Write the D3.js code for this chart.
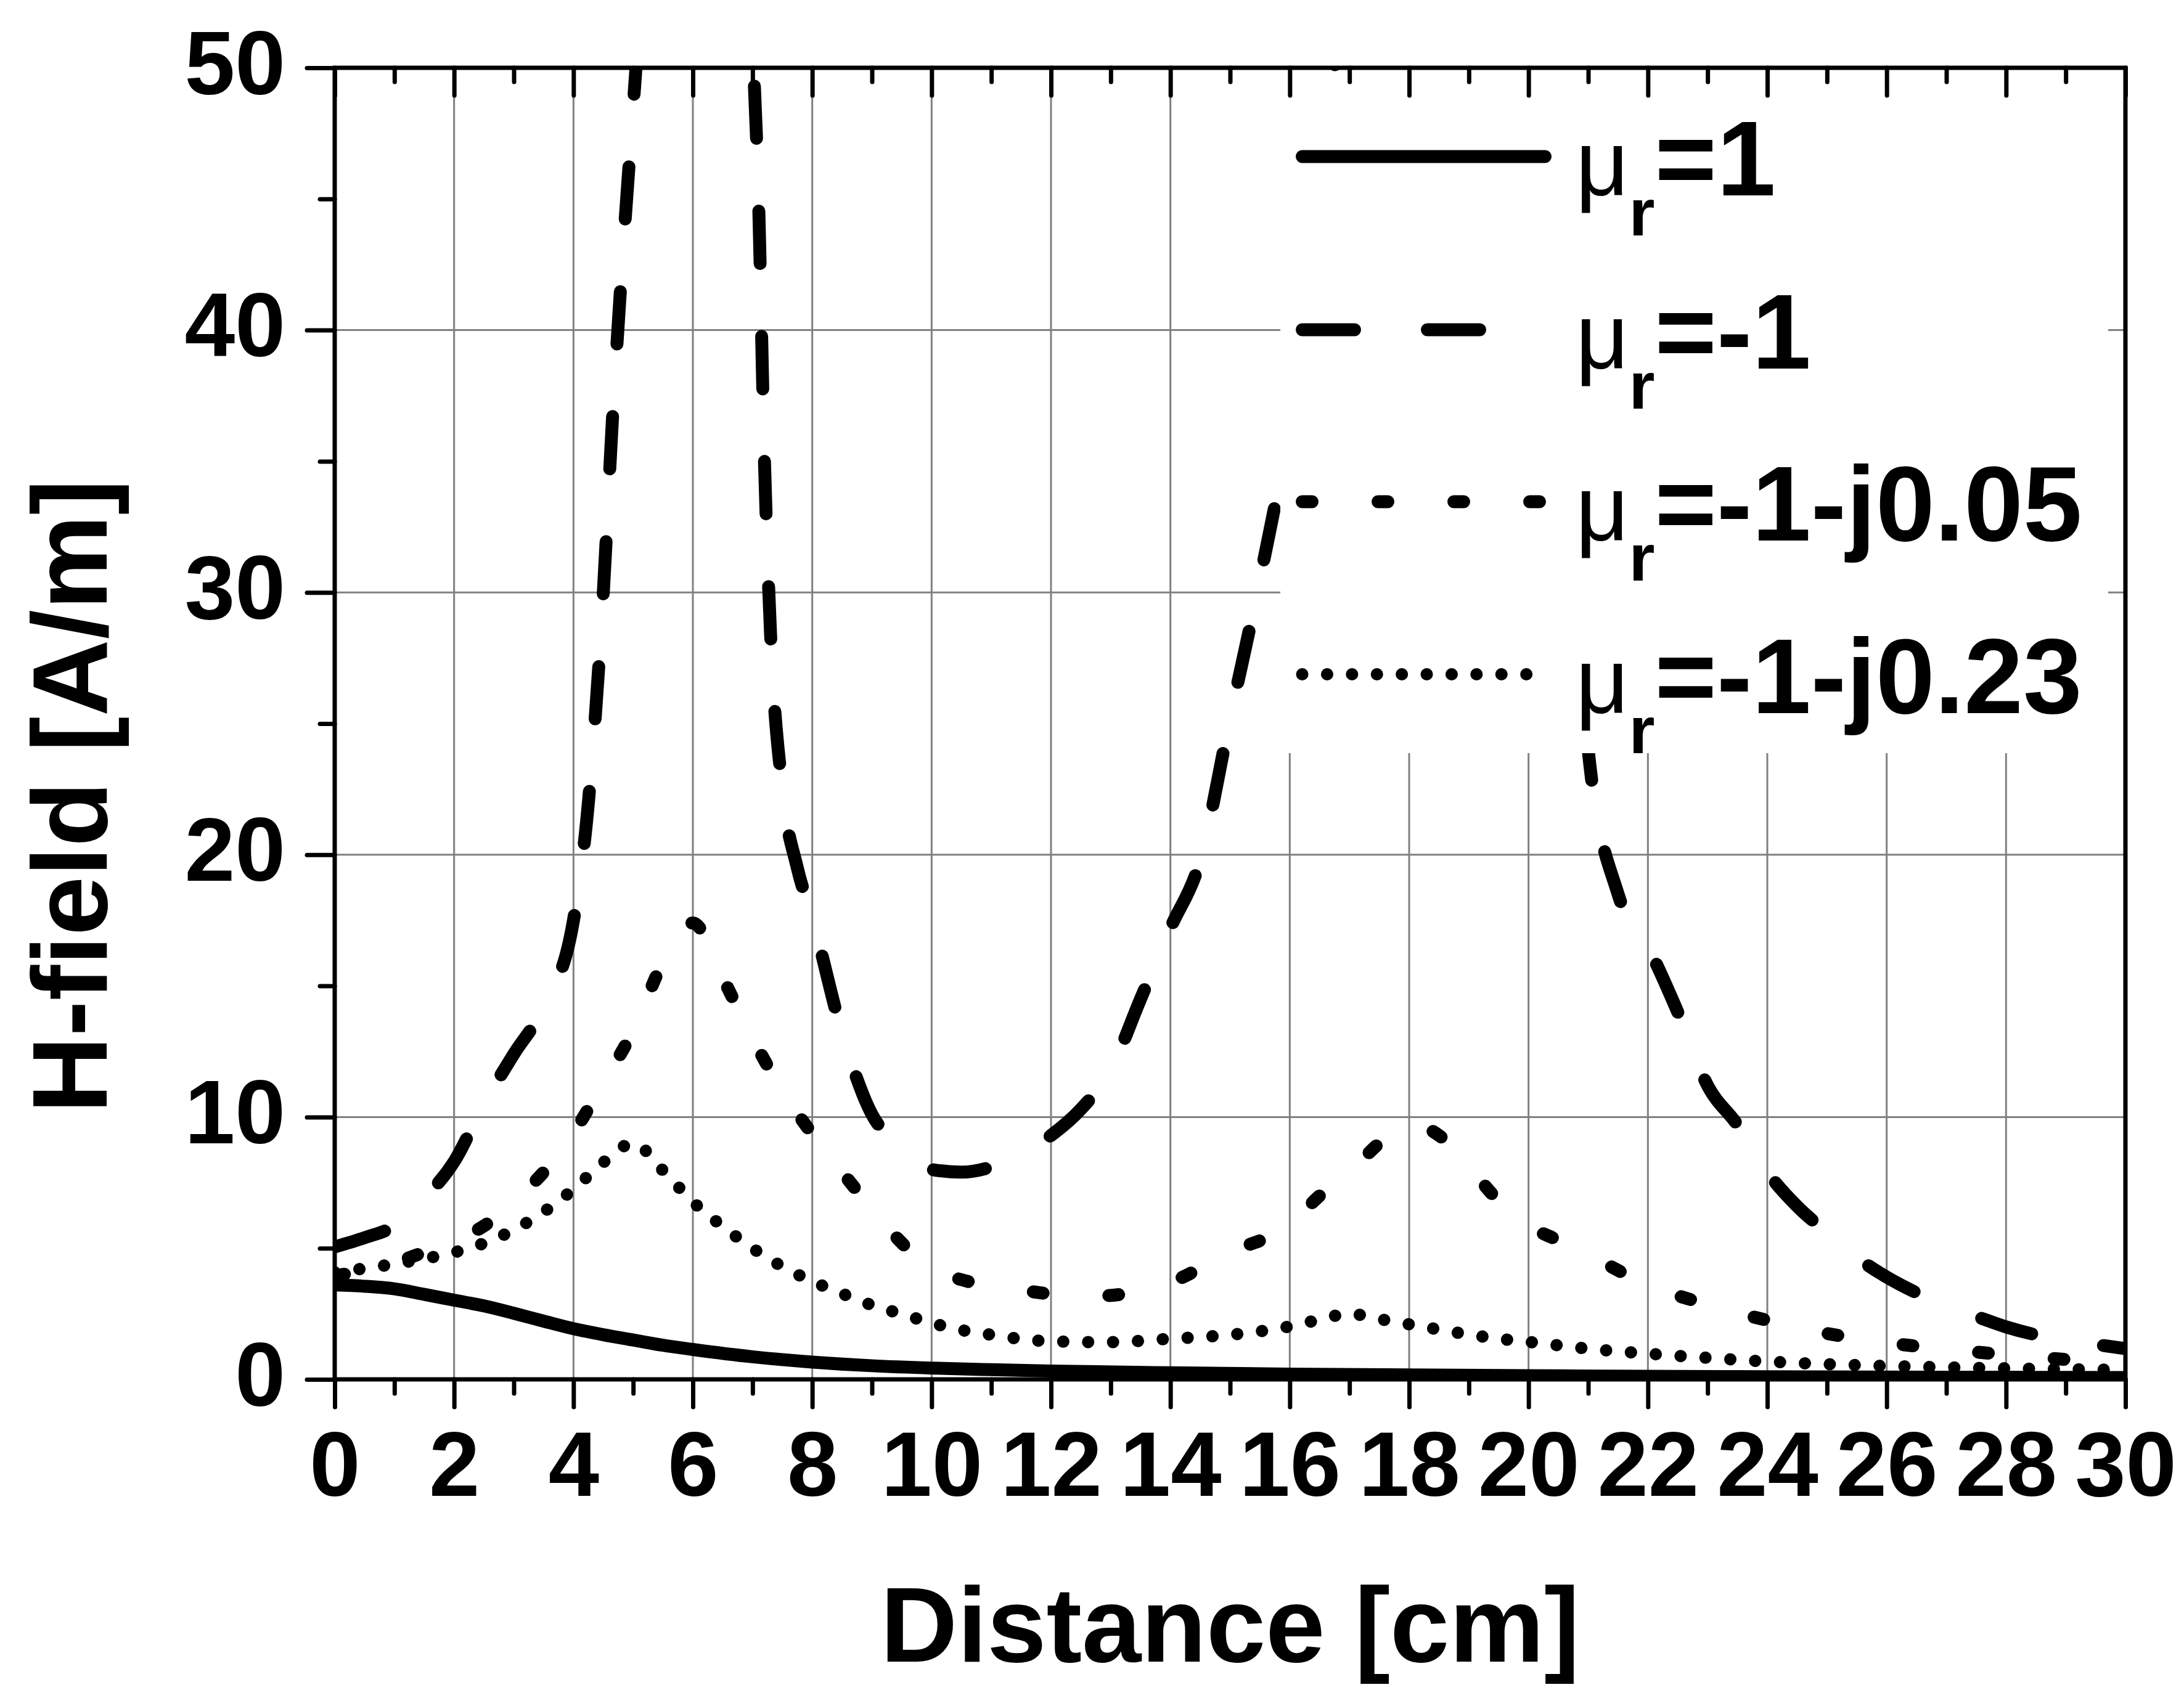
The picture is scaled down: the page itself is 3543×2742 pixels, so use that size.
<!DOCTYPE html>
<html><head><meta charset="utf-8">
<script src="https://cdn.jsdelivr.net/npm/d3@7"></script>
<style>
body{margin:0;background:#fff}
svg{display:block}
text{font-family:"Liberation Sans",Arial,sans-serif;font-weight:bold;fill:#000}
</style>
</head><body>
<svg id="chart" width="3543" height="2742"></svg>
<script>
// ---------- data ----------
const xTicks = [0,2,4,6,8,10,12,14,16,18,20,22,24,26,28,30];
const yTicks = [0,10,20,30,40,50];

const distSolid = [0,0.5,1,1.5,2,2.5,3,3.5,4,4.5,5,5.5,6,7,8,9,10,11,12,14,16,18,20,22,24,26,28,30];
const hSolid    = [3.6,3.55,3.45,3.24,3.02,2.8,2.52,2.22,1.93,1.7,1.5,1.3,1.14,0.86,0.66,0.52,0.43,0.37,0.32,0.25,0.2,0.17,0.14,0.12,0.1,0.09,0.08,0.07];

const distDash = [0,0.5,1,1.5,2,2.5,3,3.5,4,4.25,4.5,4.65,4.8,5,5.2,5.6,6.1,6.6,7.0,7.1,7.2,7.3,7.5,7.75,8,8.5,9,9.5,10,10.5,11,11.5,12,12.5,13,13.5,14,14.5,15,15.5,16,16.5,17,18,19,20,20.5,21,21.5,22,22.5,23,23.5,24,24.5,25,25.5,26,26.5,27,27.5,28,28.5,29,29.5,30];
const hDash    = [5.05,5.4,5.85,6.9,8.3,10.5,12.4,14.2,17.5,22,30,36.5,42,48.5,55,70,80,70,51,45,35,28.5,22.5,19.5,17.6,13.2,10.1,8.9,8.0,7.9,8.1,8.6,9.3,10.3,11.8,14.5,17.2,19.8,25.2,30.5,36.5,45,55,70,75,60,45,24,18.5,16.5,14,11.2,9.7,7.9,6.6,5.6,4.65,3.9,3.3,2.8,2.4,2.0,1.7,1.5,1.33,1.17];

const dist005 = [0,0.5,1,1.5,2,2.5,3,3.5,4,4.5,5,5.5,6,6.5,7,7.5,8,8.5,9,9.5,10,10.5,11,11.5,12,12.5,13,14,15,16,16.5,17,17.5,18,18.5,19,19.5,20,20.5,21,22,23,24,25,26,27,28,29,30];
const h005    = [3.95,4.15,4.45,4.85,5.3,5.85,6.8,7.9,9.4,11.3,13.3,15.9,17.4,15.3,13.0,11.0,9.35,7.9,6.5,5.2,4.2,3.8,3.55,3.4,3.25,3.15,3.2,3.7,4.85,5.9,7.0,7.9,9.0,9.75,9.3,8.1,6.8,5.85,5.3,4.75,3.6,2.85,2.25,1.75,1.4,1.15,0.94,0.76,0.6];

const dist023 = [0,0.5,1,1.5,2,2.5,3,3.5,4,4.5,5,5.5,6,6.5,7,7.5,8,8.5,9,9.5,10,10.5,11,11.5,12,13,14,15,16,16.5,17,17.5,18,18.5,19,19.5,20,21,22,23,24,25,26,27,28,29,30];
const h023    = [4.08,4.23,4.4,4.6,4.84,5.19,5.7,6.38,7.25,8.27,9.0,7.96,6.77,5.83,5.0,4.3,3.74,3.27,2.83,2.49,2.15,1.88,1.7,1.54,1.45,1.42,1.55,1.7,2.02,2.28,2.5,2.3,2.1,1.9,1.71,1.55,1.43,1.17,0.98,0.82,0.68,0.58,0.51,0.46,0.42,0.39,0.36];

const seriesNames = ["\u03bc_r=1","\u03bc_r=-1","\u03bc_r=-1-j0.05","\u03bc_r=-1-j0.23"];
const seriesLabelTail = ["=1","=-1","=-1-j0.05","=-1-j0.23"];

// ---------- layout ----------
const W = 3543, H = 2742;
const L = 543, R = 3448, T = 110, B = 2238;
const svg = d3.select("#chart");
const x = d3.scaleLinear().domain([0,30]).range([L,R]);
const y = d3.scaleLinear().domain([0,50]).range([B,T]);

const styles = [
  {w:21, dash:null},
  {w:21, dash:"85,118"},
  {w:21, dash:"16,107"},
  {w:20, dash:"0.1,40.3"}
];
const series = [
  distSolid.map((d,i)=>[d,hSolid[i]]),
  distDash.map((d,i)=>[d,hDash[i]]),
  dist005.map((d,i)=>[d,h005[i]]),
  dist023.map((d,i)=>[d,h023[i]])
];

// grid
const grid = svg.append("g").attr("stroke","#808080").attr("stroke-width",3);
grid.selectAll(".gx").data(xTicks.filter(v=>v>0&&v<30)).join("line")
  .attr("x1",d=>x(d)).attr("x2",d=>x(d)).attr("y1",T).attr("y2",B);
grid.selectAll(".gy").data(yTicks.filter(v=>v>0&&v<50)).join("line")
  .attr("x1",L).attr("x2",R).attr("y1",d=>y(d)).attr("y2",d=>y(d));

// clip
svg.append("clipPath").attr("id","plotclip").append("rect")
  .attr("x",L).attr("y",T).attr("width",R-L).attr("height",B-T);

const line = d3.line().x(d=>x(d[0])).y(d=>y(d[1])).curve(d3.curveMonotoneX);
const gData = svg.append("g").attr("clip-path","url(#plotclip)");
series.forEach((s,i)=>{
  gData.append("path").attr("d",line(s)).attr("fill","none")
    .attr("stroke","#000").attr("stroke-width",styles[i].w)
    .attr("stroke-linecap","round").attr("stroke-linejoin","round")
    .attr("stroke-dasharray",styles[i].dash);
});

// legend
const lg = svg.append("g");
lg.append("rect").attr("x",2077).attr("y",145).attr("width",3420-2077).attr("height",1222-145).attr("fill","#fff");
const rowY = [254,535,814,1094];
seriesNames.forEach((nm,i)=>{
  lg.append("line").attr("x1",2112.5).attr("x2",2506.5).attr("y1",rowY[i]).attr("y2",rowY[i])
    .attr("stroke","#000").attr("stroke-width",styles[i].w).attr("stroke-linecap","round")
    .attr("stroke-dasharray",styles[i].dash);
  const t = lg.append("text").attr("x",2556).attr("y",rowY[i]+63);
  t.append("tspan").attr("font-size",150).attr("font-weight","normal").text("\u03bc");
  t.append("tspan").attr("font-size",108).attr("dy",65).text("r");
  t.append("tspan").attr("font-size",172).attr("dy",-65).text(seriesLabelTail[i]);
});

// frame
svg.append("rect").attr("x",L).attr("y",T).attr("width",R-L).attr("height",B-T)
  .attr("fill","none").attr("stroke","#000").attr("stroke-width",7);

function styleAxis(g){
  g.select(".domain").remove();
  g.selectAll(".tick line").attr("stroke","#000").attr("stroke-width",7).attr("stroke-linecap","round");
}
const xMinor = d3.range(1,30,2);
const yMinor = [5,15,25,35,45];

// bottom axis
const gb = svg.append("g").attr("transform",`translate(0,${B})`)
  .call(d3.axisBottom(x).tickValues(xTicks).tickSize(45).tickFormat(d3.format("d")));
styleAxis(gb);
gb.selectAll(".tick text").attr("y",189).attr("dy",null).attr("font-size",148)
  .attr("font-family","'Liberation Sans',Arial,sans-serif").attr("font-weight","bold");
const gbm = svg.append("g").attr("transform",`translate(0,${B})`)
  .call(d3.axisBottom(x).tickValues(xMinor).tickSize(23).tickFormat(""));
styleAxis(gbm);

// top axis (inward ticks)
const gt = svg.append("g").attr("transform",`translate(0,${T})`)
  .call(d3.axisTop(x).tickValues(xTicks).tickSize(-45).tickFormat(""));
styleAxis(gt);
const gtm = svg.append("g").attr("transform",`translate(0,${T})`)
  .call(d3.axisTop(x).tickValues(xMinor).tickSize(-23).tickFormat(""));
styleAxis(gtm);

// left axis
const gl = svg.append("g").attr("transform",`translate(${L},0)`)
  .call(d3.axisLeft(y).tickValues(yTicks).tickSize(45).tickFormat(d3.format("d")));
styleAxis(gl);
gl.selectAll(".tick text").attr("x",-80).attr("dy",null).attr("y",42).attr("font-size",147)
  .attr("font-family","'Liberation Sans',Arial,sans-serif").attr("font-weight","bold");
const glm = svg.append("g").attr("transform",`translate(${L},0)`)
  .call(d3.axisLeft(y).tickValues(yMinor).tickSize(24).tickFormat(""));
styleAxis(glm);

// titles
svg.append("text").attr("x",(L+R)/2).attr("y",2696).attr("text-anchor","middle")
  .attr("font-size",173).text("Distance [cm]");
svg.append("text").attr("transform","translate(173,1292) rotate(-90)").attr("text-anchor","middle")
  .attr("font-size",173).text("H-field [A/m]");
</script>
</body></html>
